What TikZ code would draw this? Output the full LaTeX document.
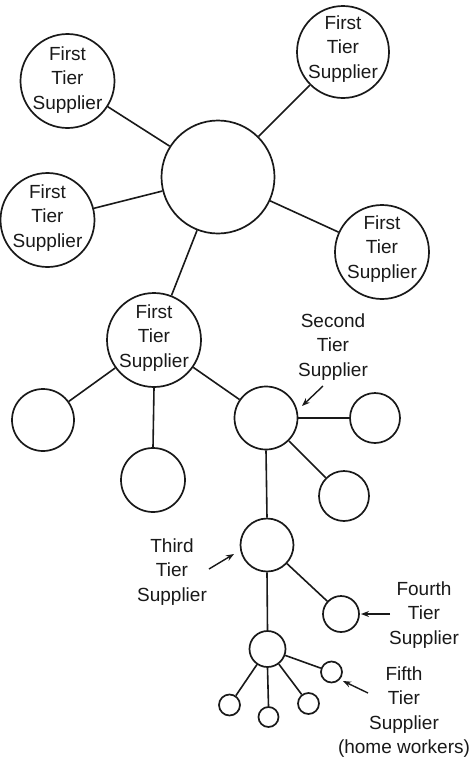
\documentclass[tikz,border=0pt]{standalone}
\usepackage{fontspec}
\setmainfont{Liberation Sans}
\usetikzlibrary{arrows.meta}
\begin{document}
\begin{tikzpicture}[x=1pt,y=-1pt,
  ring/.style={circle,draw=ink,line width=1.7pt,inner sep=0pt,fill=white},
  lbl/.style={align=center,inner sep=0pt,text=ink,font=\fontsize{19}{24.5}\selectfont},
  link/.style={draw=ink,line width=1.6pt},
  pointer/.style={draw=ink,line width=1.4pt,-{Stealth[length=8pt,width=6pt]}}]
\definecolor{ink}{RGB}{25,25,25}
\useasboundingbox[fill=white] (0,0) rectangle (473,758);
% circles
\node[ring,minimum size=113pt] (c) at (218,177) {};
\node[ring,minimum size=94pt] (t1) at (67.5,81) {};
\node[ring,minimum size=92pt] (t2) at (343,52) {};
\node[ring,minimum size=94pt] (t3) at (47.5,220) {};
\node[ring,minimum size=94pt] (t4) at (382,252) {};
\node[ring,minimum size=94pt] (t5) at (154,340) {};
\node[ring,minimum size=62pt] (a1) at (43,420) {};
\node[ring,minimum size=64pt] (a2) at (153,480) {};
\node[ring,minimum size=63pt] (s) at (266,418) {};
\node[ring,minimum size=50pt] (a3) at (375,418) {};
\node[ring,minimum size=50pt] (a4) at (344,496) {};
\node[ring,minimum size=53pt] (th) at (267,545) {};
\node[ring,minimum size=36pt] (fo) at (341,614) {};
\node[ring,minimum size=36pt] (fp) at (267.5,649) {};
\node[ring,minimum size=21pt] (ff) at (331.5,672) {};
\node[ring,minimum size=21pt] (b1) at (229.5,705) {};
\node[ring,minimum size=20pt] (b2) at (268.5,717) {};
\node[ring,minimum size=21pt] (b3) at (308.5,703.5) {};
% connectors
\draw[link] (c) -- (t1);
\draw[link] (c) -- (t2);
\draw[link] (c) -- (t3);
\draw[link] (c) -- (t4);
\draw[link] (c) -- (t5);
\draw[link] (t5) -- (a1);
\draw[link] (t5.south) -- (a2.north);
\draw[link] (t5) -- (s);
\draw[link] (s) -- (a3);
\draw[link] (s) -- (a4);
\draw[link] (s.south) -- (th.north);
\draw[link] (th) -- (fo);
\draw[link] (th.south) -- (fp.north);
\draw[link] (fp) -- (ff);
\draw[link] (fp) -- (b1);
\draw[link] (fp.south) -- (b2.north);
\draw[link] (fp) -- (b3);
% texts inside circles
\node[lbl] (l1) at (67.5,80) {First\\Tier\\Supplier};
\node[lbl] (l2) at (343,49) {First\\Tier\\Supplier};
\node[lbl] (l3) at (47.5,218) {First\\Tier\\Supplier};
\node[lbl] (l4) at (382,249) {First\\Tier\\Supplier};
\node[lbl] (l5) at (154,338) {First\\Tier\\Supplier};
% side labels
\node[lbl] (ls) at (333,347) {Second\\Tier\\Supplier};
\node[lbl] (lt) at (172,572) {Third\\Tier\\Supplier};
\node[lbl] (lf) at (424,615) {Fourth\\Tier\\Supplier};
\node[lbl] (lv) at (404,712) {Fifth\\Tier\\Supplier\\(home workers)};
% arrows
\coordinate (ps) at (323,386);
\coordinate (ps2) at (302,406);
\coordinate (pt) at (209,569);
\coordinate (pt2) at (234,554);
\coordinate (pf) at (390,614);
\coordinate (pf2) at (361,614);
\coordinate (pv) at (368,693);
\coordinate (pv2) at (343,681);
\draw[pointer] (ps) -- (ps2);
\draw[pointer] (pt) -- (pt2);
\draw[pointer] (pf) -- (pf2);
\draw[pointer] (pv) -- (pv2);
\end{tikzpicture}
\end{document}
